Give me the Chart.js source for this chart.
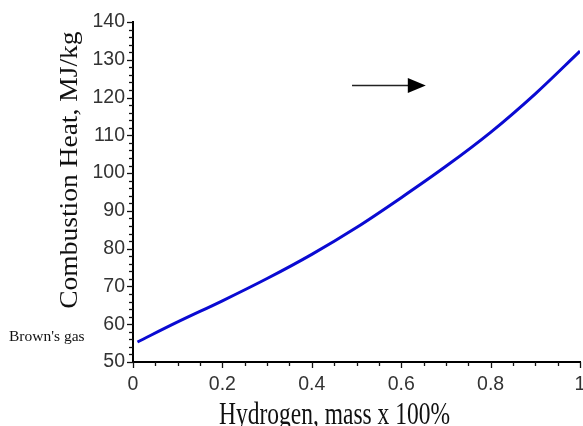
<!DOCTYPE html>
<html>
<head>
<meta charset="utf-8">
<script src="https://cdn.jsdelivr.net/npm/chart.js@4/dist/chart.umd.min.js"></script>
<style>
html,body{margin:0;padding:0;background:#fff;}
#wrap{width:583px;height:426px;position:relative;}
</style>
</head>
<body>
<div id="wrap"><canvas id="c" width="583" height="426"></canvas></div>
<script>
// ---- data ----
const hydrogenFraction = [0.01, 0.1, 0.2, 0.3, 0.4, 0.5, 0.6, 0.7, 0.8, 0.9, 1.0];
const combustionHeat   = [55.3, 60.6, 66.2, 72.1, 78.5, 85.6, 93.5, 101.8, 110.8, 121.0, 132.3];
const yTickValues = [50, 60, 70, 80, 90, 100, 110, 120, 130, 140];
const xTickValues = [0, 0.2, 0.4, 0.6, 0.8, 1];
const yAxisTitle = "Combustion Heat, MJ/kg";
const xAxisTitle = "Hydrogen, mass x 100%";
const pointLabel = "Brown's gas";
const pointLabelY = [56.6];
const arrowX = [0.49, 0.655];
const arrowY = [123.3];

const points = hydrogenFraction.map((x, i) => ({x: x, y: combustionHeat[i]}));

const decor = {
  id: 'decor',
  afterDraw(chart) {
    const ctx = chart.ctx;
    const xs = chart.scales.x, ys = chart.scales.y;
    const ca = chart.chartArea;
    ctx.save();
    ctx.strokeStyle = '#111';
    ctx.lineWidth = 1.3;
    // y ticks
    for (let v = 50; v <= 140; v += 2) {
      const py = Math.round(ys.getPixelForValue(v)) + 0.5;
      const len = (v % 10 === 0) ? 6 : 4;
      ctx.beginPath(); ctx.moveTo(ca.left, py); ctx.lineTo(ca.left - len, py); ctx.stroke();
    }
    // x ticks
    for (let k = 0; k <= 20; k++) {
      const v = k * 0.05;
      const px = Math.round(xs.getPixelForValue(v)) + 0.5;
      const len = (k % 4 === 0) ? 6 : 4;
      ctx.beginPath(); ctx.moveTo(px, ca.bottom); ctx.lineTo(px, ca.bottom + len); ctx.stroke();
    }
    // axis titles
    ctx.fillStyle = '#111';
    ctx.font = '27.5px "Liberation Serif", "Times New Roman", serif';
    ctx.textAlign = 'center';
    ctx.textBaseline = 'middle';
    ctx.save();
    ctx.translate(70, ys.getPixelForValue(100.8));
    ctx.rotate(-Math.PI / 2);
    ctx.scale(1, 0.95);
    ctx.fillText(yAxisTitle, 0, 0);
    ctx.restore();
    ctx.save();
    ctx.font = '23.5px "Liberation Serif", "Times New Roman", serif';
    ctx.textBaseline = 'alphabetic';
    ctx.translate((xs.getPixelForValue(0) + xs.getPixelForValue(1)) / 2 - 22, 424);
    ctx.scale(1, 1.33);
    ctx.fillText(xAxisTitle, 0, 0);
    ctx.restore();
    // point label
    ctx.font = '15.5px "Liberation Serif", "Times New Roman", serif';
    ctx.textAlign = 'left';
    ctx.textBaseline = 'middle';
    ctx.fillText(pointLabel, 9, ys.getPixelForValue(pointLabelY[0]));
    // arrow
    const ax0 = xs.getPixelForValue(arrowX[0]);
    const ax1 = xs.getPixelForValue(arrowX[1]);
    const ay = Math.round(ys.getPixelForValue(arrowY[0])) + 0.5;
    ctx.strokeStyle = '#222';
    ctx.lineWidth = 1.5;
    ctx.beginPath(); ctx.moveTo(ax0, ay); ctx.lineTo(ax1 - 16, ay); ctx.stroke();
    ctx.fillStyle = '#000';
    ctx.beginPath();
    ctx.moveTo(ax1, ay); ctx.lineTo(ax1 - 18, ay - 7.5); ctx.lineTo(ax1 - 18, ay + 7.5); ctx.closePath(); ctx.fill();
    ctx.restore();
  }
};

new Chart(document.getElementById('c'), {
  type: 'line',
  data: {
    datasets: [{
      data: points,
      borderColor: '#0a0ad2',
      borderWidth: 3,
      pointRadius: 0,
      cubicInterpolationMode: 'monotone',
      fill: false
    }]
  },
  options: {
    responsive: false,
    animation: false,
    devicePixelRatio: 1,
    layout: {padding: {top: 22, right: 3, left: 0, bottom: 0}},
    plugins: {legend: {display: false}, tooltip: {enabled: false}},
    scales: {
      x: {
        type: 'linear',
        min: 0, max: 1,
        afterBuildTicks(scale) { scale.ticks = xTickValues.map(v => ({value: v})); },
        afterFit(scale) { scale.height = 64; scale.paddingRight = 0; scale.paddingLeft = 0; },
        grid: {display: false, drawTicks: false},
        border: {display: true, color: '#000', width: 2},
        ticks: {
          padding: 11,
          color: '#333',
          font: {family: '"Liberation Sans", Arial, sans-serif', size: 19.5},
          maxRotation: 0,
          callback: v => String(Math.round(v * 10) / 10)
        }
      },
      y: {
        type: 'linear',
        min: 50, max: 140,
        afterBuildTicks(scale) { scale.ticks = yTickValues.map(v => ({value: v})); },
        afterFit(scale) { scale.width = 133; },
        grid: {display: false, drawTicks: false},
        border: {display: true, color: '#000', width: 2},
        ticks: {
          padding: 8,
          color: '#333',
          font: {family: '"Liberation Sans", Arial, sans-serif', size: 19.5},
          callback: v => String(v)
        }
      }
    }
  },
  plugins: [decor]
});
</script>
</body>
</html>
